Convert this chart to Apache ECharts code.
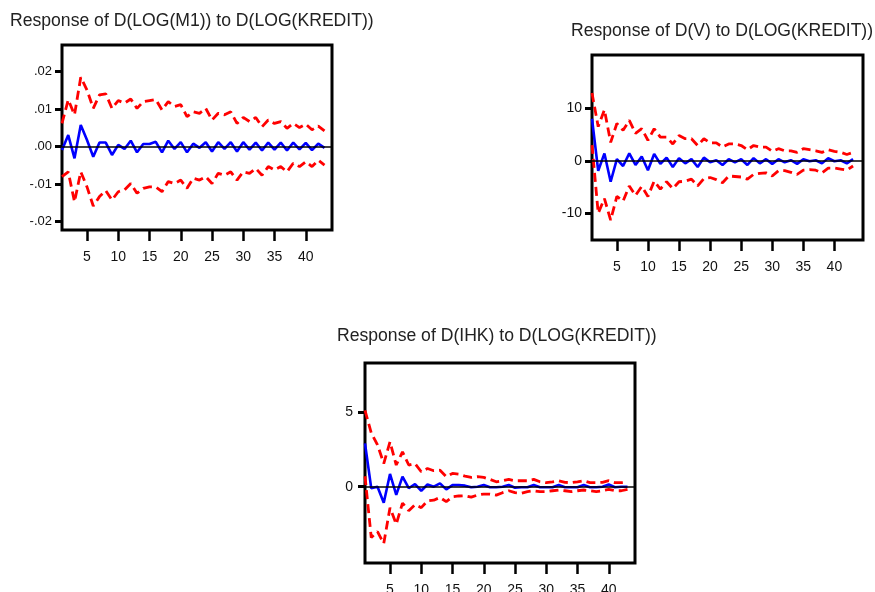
<!DOCTYPE html>
<html>
<head>
<meta charset="utf-8">
<script src="https://cdn.jsdelivr.net/npm/echarts@6/dist/echarts.min.js"></script>
<style>
  html, body { margin: 0; padding: 0; background: #fff; }
  #chart { width: 875px; height: 592px; }
</style>
</head>
<body>
<div id="chart"></div>
<script>
// periods 1..43 of the impulse response
const periods = [1, 2, 3, 4, 5, 6, 7, 8, 9, 10, 11, 12, 13, 14, 15, 16, 17, 18, 19, 20, 21, 22,
  23, 24, 25, 26, 27, 28, 29, 30, 31, 32, 33, 34, 35, 36, 37, 38, 39, 40, 41, 42, 43]
const xTicks = [5, 10, 15, 20, 25, 30, 35, 40]

// D(LOG(M1))
const m1Resp = [-0.0009, 0.0031, -0.0031, 0.0058, 0.0018, -0.0027, 0.0011, 0.0011, -0.0022, 0.0005,
  -0.0006, 0.0016, -0.0015, 0.0007, 0.0007, 0.0013, -0.0015, 0.0016, -0.0006, 0.0012,
  -0.0015, 0.0008, -0.0003, 0.0012, -0.0013, 0.0012, -0.0006, 0.0012, -0.0013, 0.0012,
  -0.0008, 0.0011, -0.0010, 0.0011, -0.0008, 0.0011, -0.0010, 0.0011, -0.0007, 0.0010,
  -0.0009, 0.0008, -0.0003]
const m1Upper = [0.0062, 0.0125, 0.0085, 0.0185, 0.0151, 0.0102, 0.0138, 0.0141, 0.0102, 0.0123,
  0.0116, 0.0127, 0.0102, 0.0120, 0.0123, 0.0126, 0.0098, 0.0120, 0.0107, 0.0112,
  0.0080, 0.0093, 0.0089, 0.0102, 0.0071, 0.0089, 0.0085, 0.0093, 0.0062, 0.0078,
  0.0067, 0.0078, 0.0053, 0.0071, 0.0062, 0.0067, 0.0049, 0.0062, 0.0051, 0.0060,
  0.0045, 0.0055, 0.0042]
const m1Lower = [-0.0080, -0.0067, -0.0147, -0.0067, -0.0107, -0.0158, -0.0133, -0.0117, -0.0142, -0.0120,
  -0.0115, -0.0098, -0.0124, -0.0111, -0.0107, -0.0107, -0.0120, -0.0093, -0.0098, -0.0089,
  -0.0111, -0.0084, -0.0089, -0.0080, -0.0098, -0.0071, -0.0076, -0.0067, -0.0089, -0.0067,
  -0.0071, -0.0058, -0.0076, -0.0053, -0.0062, -0.0053, -0.0067, -0.0044, -0.0053, -0.0040,
  -0.0053, -0.0036, -0.0049]

// D(V)
const vResp = [8.0, -1.9, 1.4, -4.0, 0.3, -1.0, 1.4, -0.8, 0.8, -1.8,
  1.3, -0.6, 0.6, -1.2, 0.5, -0.5, 0.3, -1.2, 0.6, -0.3,
  0.1, -0.8, 0.3, -0.3, 0.3, -0.8, 0.5, -0.5, 0.3, -0.6,
  0.3, -0.3, 0.1, -0.6, 0.3, -0.1, 0.1, -0.5, 0.5, -0.1,
  0.1, -0.5, 0.3]
const vUpper = [12.9, 6.5, 9.7, 3.5, 7.1, 5.8, 7.7, 5.2, 6.1, 3.9,
  6.1, 4.5, 4.5, 3.2, 4.8, 4.2, 4.2, 2.9, 4.2, 3.4,
  3.4, 2.6, 3.2, 3.2, 2.9, 2.1, 2.9, 2.6, 2.6, 1.8,
  2.3, 1.9, 1.9, 1.6, 2.3, 2.1, 1.9, 1.6, 2.1, 1.8,
  1.6, 1.2, 1.6]
const vLower = [3.0, -10.0, -7.2, -11.3, -6.8, -7.7, -4.8, -6.6, -4.9, -6.8,
  -3.9, -5.4, -4.0, -5.3, -4.0, -3.9, -3.5, -4.8, -3.4, -3.2,
  -3.6, -4.2, -2.9, -3.0, -3.1, -3.5, -2.6, -2.4, -2.3, -2.9,
  -1.9, -1.9, -2.2, -2.6, -1.8, -1.7, -1.8, -2.3, -1.4, -1.4,
  -1.6, -1.8, -1.0]

// D(IHK)
const ihkResp = [2.9, -0.1, 0.0, -1.07, 0.85, -0.55, 0.67, -0.1, 0.18, -0.27,
  0.15, 0.0, 0.22, -0.18, 0.11, 0.11, 0.07, -0.04, 0.0, 0.11,
  -0.04, -0.04, 0.0, 0.11, -0.07, -0.04, -0.04, 0.11, -0.04, -0.04,
  -0.04, 0.11, -0.04, -0.04, -0.04, 0.11, -0.04, -0.04, 0.0, 0.15,
  -0.04, 0.0, 0.0]
const ihkUpper = [5.1, 3.6, 2.8, 1.55, 3.0, 1.45, 2.33, 1.45, 1.55, 1.0,
  1.22, 1.07, 1.1, 0.67, 0.89, 0.84, 0.71, 0.62, 0.67, 0.62,
  0.49, 0.33, 0.4, 0.49, 0.4, 0.4, 0.4, 0.49, 0.33, 0.27,
  0.33, 0.4, 0.29, 0.27, 0.33, 0.4, 0.27, 0.27, 0.29, 0.4,
  0.27, 0.27, 0.29]
const ihkLower = [0.7, -3.4, -3.0, -3.8, -1.4, -2.5, -1.1, -1.6, -1.2, -1.4,
  -0.95, -0.9, -0.72, -1.0, -0.67, -0.62, -0.6, -0.7, -0.56, -0.49,
  -0.49, -0.56, -0.4, -0.27, -0.4, -0.44, -0.33, -0.27, -0.33, -0.33,
  -0.27, -0.22, -0.27, -0.33, -0.27, -0.22, -0.27, -0.33, -0.27, -0.18,
  -0.27, -0.27, -0.18]

const FONT = 'Liberation Sans, Arial, sans-serif'
const chart = echarts.init(document.getElementById('chart'))

const pairs = (vals) => periods.map((p, i) => [p, vals[i]])

const xAxisOf = (idx, max) => ({
  type: 'value',
  gridIndex: idx,
  min: 1,
  max: max,
  axisLine: { show: false, onZero: false },
  splitLine: { show: false },
  axisTick: { length: 11, lineStyle: { color: '#000', width: 2.5 }, customValues: xTicks },
  axisLabel: { margin: 20, color: '#111', fontSize: 14, fontFamily: FONT, customValues: xTicks },
})

const yAxisOf = (idx, min, max, ticks, margin, size, fmt) => ({
  type: 'value',
  gridIndex: idx,
  min: min,
  max: max,
  axisLine: { show: false, onZero: false },
  splitLine: { show: false },
  axisTick: { length: 7, lineStyle: { color: '#000', width: 3 }, customValues: ticks },
  axisLabel: { margin: margin, color: '#111', fontSize: size, fontFamily: FONT, customValues: ticks, formatter: fmt },
})

// one response line + two dashed bands per panel
const panelSeries = (idx, resp, upper, lower) => [
  {
    type: 'line', xAxisIndex: idx, yAxisIndex: idx, data: pairs(resp),
    symbol: 'none', lineStyle: { color: '#0000ff', width: 2.6 }, z: 3,
    markLine: {
      silent: true, symbol: 'none', label: { show: false },
      lineStyle: { color: '#000', width: 1.6, type: 'solid' },
      data: [{ yAxis: 0 }],
    },
  },
  {
    type: 'line', xAxisIndex: idx, yAxisIndex: idx, data: pairs(upper),
    symbol: 'none', lineStyle: { color: '#ff0000', width: 2.8, type: [9, 5] },
  },
  {
    type: 'line', xAxisIndex: idx, yAxisIndex: idx, data: pairs(lower),
    symbol: 'none', lineStyle: { color: '#ff0000', width: 2.8, type: [9, 5] },
  },
]

const dotFmt = (v) => {
  const s = '.' + String(Math.round(Math.abs(v) * 100)).padStart(2, '0')
  return v < -1e-9 ? '-' + s : s
}

chart.setOption({
  animation: false,
  title: [
    { text: 'Response of D(LOG(M1)) to D(LOG(KREDIT))', left: 10, top: 12 },
    { text: 'Response of D(V) to D(LOG(KREDIT))', left: 571, top: 22 },
    { text: 'Response of D(IHK) to D(LOG(KREDIT))', left: 337, top: 327 },
  ].map((t) => ({ ...t, padding: 0, textStyle: { fontSize: 17.6, fontWeight: 'normal', color: '#222', fontFamily: FONT } })),
  grid: [
    { left: 62, top: 45, width: 270, height: 185 },
    { left: 592, top: 55, width: 271, height: 185 },
    { left: 365, top: 363, width: 270, height: 200 },
  ].map((g) => ({ ...g, outerBoundsMode: 'none', show: true, borderColor: '#000', borderWidth: 3, backgroundColor: '#fff' })),
  xAxis: [xAxisOf(0, 44.2), xAxisOf(1, 44.6), xAxisOf(2, 44.2)],
  yAxis: [
    yAxisOf(0, -0.0222, 0.0271, [-0.02, -0.01, 0, 0.01, 0.02], 10, 13, dotFmt),
    yAxisOf(1, -15.1, 20.15, [-10, 0, 10], 10, 14),
    yAxisOf(2, -5.1, 8.27, [0, 5], 12, 14),
  ],
  series: [
    ...panelSeries(0, m1Resp, m1Upper, m1Lower),
    ...panelSeries(1, vResp, vUpper, vLower),
    ...panelSeries(2, ihkResp, ihkUpper, ihkLower),
  ],
})

window.addEventListener('resize', () => chart.resize())
</script>
</body>
</html>
